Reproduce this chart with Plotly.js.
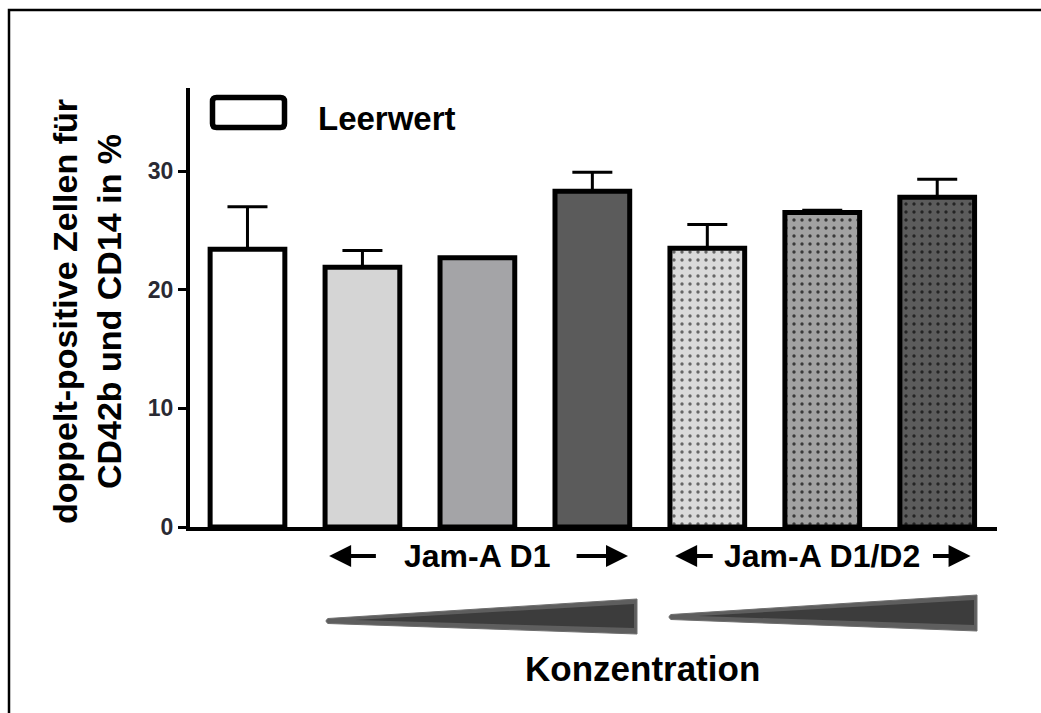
<!DOCTYPE html>
<html>
<head>
<meta charset="utf-8">
<script src="https://cdn.plot.ly/plotly-3.0.1.min.js"></script>
<style>
  html, body { margin: 0; padding: 0; background: #ffffff; }
  #chart { width: 1041px; height: 713px; }
</style>
</head>
<body>
<div id="chart"></div>
<script>
// Groups along the x axis (Leerwert, then three rising concentrations of each protein)
const categories = ['Leerwert', 'Jam-A D1 niedrig', 'Jam-A D1 mittel', 'Jam-A D1 hoch',
                    'Jam-A D1/D2 niedrig', 'Jam-A D1/D2 mittel', 'Jam-A D1/D2 hoch'];
// Mean share of double-positive cells (%) and the upper error (SEM)
const values = [23.4, 21.9, 22.7, 28.3, 23.5, 26.5, 27.8];
const errors = [3.6, 1.4, 0.0, 1.6, 2.0, 0.2, 1.5];
const yTicks = [0, 10, 20, 30];
const groupLabels = ['Jam-A D1', 'Jam-A D1/D2'];
const legendLabel = 'Leerwert';
const yTitle = 'doppelt-positive Zellen für<br>CD42b und CD14 in %';
const xTitle = 'Konzentration';

// Fill colours; the Jam-A D1/D2 bars carry a dot raster on top
const fills = ['#ffffff', '#d5d5d5', '#a4a4a7', '#5b5b5b', '#dadada', '#a2a2a2', '#5c5c5c'];
const dotted = [false, false, false, false, true, true, true];
const dotColors = ['#666666', '#3a3a3a', '#242424'];

// Figure geometry in pixels
const W = 1041, H = 713;
const M = { l: 190, r: 44, t: 88, b: 186 };
const PW = W - M.l - M.r, PH = H - M.t - M.b;
const px = x => (x - M.l) / PW;          // pixel x -> paper x
const py = y => (H - M.b - y) / PH;      // pixel y -> paper y

const sans = "'Liberation Sans', Arial, Helvetica, sans-serif";
const idx = categories.map((_, i) => i);
const BAR_W = 0.65;

// Layer 1: solid fills
const fillLayer = {
  type: 'bar', x: idx, y: values, width: BAR_W,
  hovertext: categories, hoverinfo: 'text+y', textposition: 'none',
  marker: { color: fills, line: { width: 0 } },
  showlegend: false
};

// Layer 2: dot raster on the dotted bars, one trace per bar colour
const dotLayers = [];
let k = 0;
idx.forEach(i => {
  if (!dotted[i]) return;
  dotLayers.push({
    type: 'bar', x: [i], y: [values[i]], width: BAR_W - 0.04,
    hoverinfo: 'skip', textposition: 'none',
    marker: {
      color: dotColors[k], line: { width: 0 },
      pattern: { shape: '.', fillmode: 'replace', bgcolor: 'rgba(0,0,0,0)',
                 fgcolor: dotColors[k], size: 8, solidity: 0.14 }
    },
    showlegend: false
  });
  k++;
});

// Layer 3: black outlines and upper error bars
const outlineLayer = {
  type: 'bar', x: idx, y: values, width: BAR_W,
  hoverinfo: 'skip', textposition: 'none',
  marker: { color: 'rgba(0,0,0,0)', line: { color: '#000000', width: 5 } },
  error_y: {
    type: 'data', symmetric: false, array: errors,
    arrayminus: values.map(() => 0),
    color: '#000000', thickness: 3, width: 20
  },
  showlegend: false
};

const annotations = [
  // y axis title
  { xref: 'paper', yref: 'paper', x: px(87), y: py(312), xanchor: 'center', yanchor: 'middle',
    text: yTitle, textangle: -90, showarrow: false,
    font: { family: sans, size: 34, color: '#000', weight: 700 } },
  // legend label
  { xref: 'paper', yref: 'paper', x: px(316), y: py(118), xanchor: 'left', yanchor: 'middle',
    text: legendLabel, showarrow: false,
    font: { family: sans, size: 33, color: '#000', weight: 700 } },
  // x axis title
  { xref: 'paper', yref: 'paper', x: px(642), y: py(668), xanchor: 'center', yanchor: 'middle',
    text: xTitle, showarrow: false,
    font: { family: sans, size: 35, color: '#000', weight: 700 } }
];

// Group captions under the bars, centred on the middle bar of each group, with arrows
const groupCenters = [2, 5];
const arrowSpans = [[[1.13, 0.71], [2.85, 3.31]], [[4.06, 3.72], [5.95, 6.29]]];
groupLabels.forEach((lab, g) => {
  annotations.push({ xref: 'x', yref: 'paper', x: groupCenters[g], y: py(556),
    xanchor: 'center', yanchor: 'middle', text: lab, showarrow: false,
    font: { family: sans, size: 32, color: '#000', weight: 700 } });
  arrowSpans[g].forEach(([tail, head]) => {
    annotations.push({ xref: 'x', yref: 'paper', x: head, y: py(556),
      axref: 'x', ayref: 'pixel', ax: tail, ay: 0, text: '', showarrow: true,
      arrowhead: 2, arrowsize: 1.1, arrowwidth: 4, arrowcolor: '#000', standoff: 0 });
  });
});

// Concentration wedges under each group (rounded thin tip on the left)
const wedges = [[325, 637, 621, 599, 634], [668, 977, 617, 595, 631]];
const shapes = [];
wedges.forEach(([x0, x1, yt, y1a, y1b]) => {
  shapes.push({ type: 'path', xref: 'paper', yref: 'paper',
    path: `M ${px(x0 + 3)} ${py(yt - 2.5)} L ${px(x1)} ${py(y1a)} L ${px(x1)} ${py(y1b)} ` +
          `L ${px(x0 + 3)} ${py(yt + 2.5)} Q ${px(x0 - 1)} ${py(yt)} ${px(x0 + 3)} ${py(yt - 2.5)} Z`,
    fillcolor: '#5e5e5e', line: { color: '#6e6e6e', width: 1 } });
  shapes.push({ type: 'path', xref: 'paper', yref: 'paper',
    path: `M ${px(x0 + 30)} ${py(yt - 1)} L ${px(x1 - 3)} ${py(y1a + 5)} L ${px(x1 - 3)} ${py(y1b - 6)} Z`,
    fillcolor: '#3c3c3c', line: { width: 0 } });
});

// Legend swatch (rounded open box)
(function () {
  const x0 = 212.5, x1 = 284.5, y0 = 97.5, y1 = 127.5, r = 4;
  const p = (x, y) => `${px(x)} ${py(y)}`;
  shapes.push({ type: 'path', xref: 'paper', yref: 'paper',
    path: `M ${p(x0 + r, y0)} L ${p(x1 - r, y0)} Q ${p(x1, y0)} ${p(x1, y0 + r)} L ${p(x1, y1 - r)} ` +
          `Q ${p(x1, y1)} ${p(x1 - r, y1)} L ${p(x0 + r, y1)} Q ${p(x0, y1)} ${p(x0, y1 - r)} ` +
          `L ${p(x0, y0 + r)} Q ${p(x0, y0)} ${p(x0 + r, y0)} Z`,
    fillcolor: '#ffffff', line: { color: '#000', width: 5.5 } });
})();

// Outer frame: top and left edges
shapes.push({ type: 'path', xref: 'paper', yref: 'paper',
  path: `M ${px(9)} ${py(H + 5)} L ${px(9)} ${py(10)} L ${px(W + 5)} ${py(10)}`,
  line: { color: '#000', width: 2.5 } });

const layout = {
  width: W, height: H,
  margin: M,
  paper_bgcolor: '#ffffff',
  plot_bgcolor: 'rgba(0,0,0,0)',
  showlegend: false,
  barmode: 'overlay',
  xaxis: {
    type: 'linear', range: [-0.5, 6.52],
    showgrid: false, zeroline: false, showticklabels: false, ticks: '',
    showline: true, linecolor: '#000', linewidth: 4, fixedrange: true
  },
  yaxis: {
    range: [0, 37], tickvals: yTicks, ticktext: yTicks.map(String),
    showgrid: false, zeroline: false,
    showline: true, linecolor: '#000', linewidth: 4,
    ticks: 'outside', ticklen: 8, tickwidth: 3, tickcolor: '#000',
    tickfont: { family: sans, size: 23, color: '#2a2a33', weight: 700 },
    fixedrange: true
  },
  annotations: annotations,
  shapes: shapes
};

Plotly.newPlot('chart', [fillLayer, ...dotLayers, outlineLayer], layout,
  { displayModeBar: false, staticPlot: true });
</script>
</body>
</html>
